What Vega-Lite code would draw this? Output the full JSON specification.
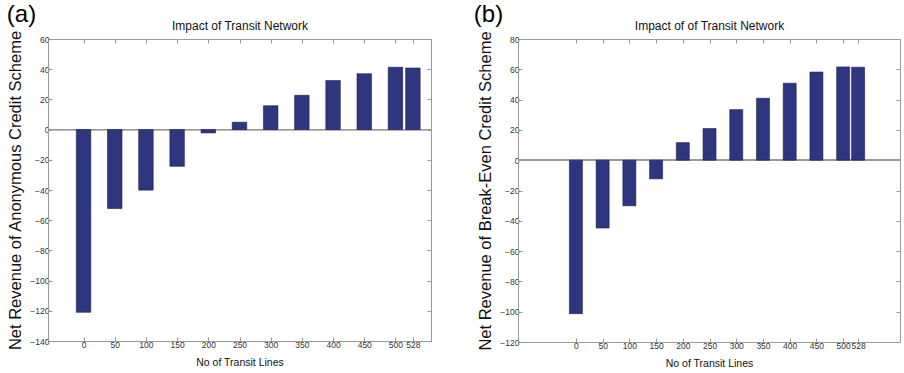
{
  "$schema": "https://vega.github.io/schema/vega-lite/v6.json",
  "background": "white",
  "padding": {"left": 6, "top": 2, "right": 0, "bottom": 0},
  "spacing": 41,
  "datasets": {
    "a": [
      {"lines": 0, "revenue": -121.0},
      {"lines": 50, "revenue": -52.3},
      {"lines": 100, "revenue": -40.1},
      {"lines": 150, "revenue": -24.3},
      {"lines": 200, "revenue": -2.2},
      {"lines": 250, "revenue": 4.9},
      {"lines": 300, "revenue": 15.8},
      {"lines": 350, "revenue": 22.7},
      {"lines": 400, "revenue": 32.5},
      {"lines": 450, "revenue": 37.0},
      {"lines": 500, "revenue": 41.3},
      {"lines": 528, "revenue": 40.8}
    ],
    "b": [
      {"lines": 0, "revenue": -101.3},
      {"lines": 50, "revenue": -44.8},
      {"lines": 100, "revenue": -30.1},
      {"lines": 150, "revenue": -12.3},
      {"lines": 200, "revenue": 11.6},
      {"lines": 250, "revenue": 20.9},
      {"lines": 300, "revenue": 33.4},
      {"lines": 350, "revenue": 40.9},
      {"lines": 400, "revenue": 50.8},
      {"lines": 450, "revenue": 58.2},
      {"lines": 500, "revenue": 61.6},
      {"lines": 528, "revenue": 61.4}
    ]
  },
  "hconcat": [
    {
      "width": 383,
      "height": 302,
      "title": {"text": "(a)", "anchor": "start", "frame": "bounds", "fontSize": 24, "fontWeight": "normal", "font": "Liberation Sans", "color": "black", "dy": 7, "dx": -1, "offset": 0},
      "data": {"name": "a"},
      "resolve": {"axis": {"x": "independent", "y": "independent"}},
      "layer": [
        {
          "mark": {"type": "rule", "color": "#9a9a9a", "strokeWidth": 1},
          "encoding": {"y": {"datum": 0, "type": "quantitative", "axis": null}}
        },
        {
          "mark": {"type": "bar", "width": 14.5, "fill": "#2e3680", "stroke": "#1c2050", "strokeWidth": 0.6},
          "encoding": {
            "x": {"field": "lines", "type": "quantitative", "scale": {"domain": [-49, 549], "nice": false, "zero": false},
                  "axis": {"orient": "bottom", "values": [0, 50, 100, 150, 200, 250, 300, 350, 400, 450, 500, 528], "title": "No of Transit Lines", "titleFontSize": 10.5, "titlePadding": 9}},
            "y": {"field": "revenue", "type": "quantitative", "scale": {"domain": [-140, 60], "nice": false},
                  "axis": {"orient": "left", "values": [-140, -120, -100, -80, -60, -40, -20, 0, 20, 40, 60], "title": "Net Revenue of Anonymous Credit Scheme", "titleFontSize": 16.5, "titlePadding": 6}}
          }
        },
        {
          "mark": {"type": "bar", "width": 14.5, "opacity": 0},
          "encoding": {
            "x": {"field": "lines", "type": "quantitative",
                  "axis": {"orient": "top", "values": [0, 50, 100, 150, 200, 250, 300, 350, 400, 450, 500, 528], "labels": false, "title": "Impact of Transit Network", "titleFontSize": 12, "titlePadding": 6}},
            "y": {"field": "revenue", "type": "quantitative",
                  "axis": {"orient": "right", "values": [-140, -120, -100, -80, -60, -40, -20, 0, 20, 40, 60], "labels": false, "title": null}}
          }
        }
      ]
    },
    {
      "width": 382,
      "height": 303,
      "title": {"text": "(b)", "anchor": "start", "frame": "bounds", "fontSize": 24, "fontWeight": "normal", "font": "Liberation Sans", "color": "black", "dy": 7, "dx": -4, "offset": 0},
      "data": {"name": "b"},
      "resolve": {"axis": {"x": "independent", "y": "independent"}},
      "layer": [
        {
          "mark": {"type": "rule", "color": "#9a9a9a", "strokeWidth": 1},
          "encoding": {"y": {"datum": 0, "type": "quantitative", "axis": null}}
        },
        {
          "mark": {"type": "bar", "width": 13, "fill": "#2e3680", "stroke": "#1c2050", "strokeWidth": 0.6},
          "encoding": {
            "x": {"field": "lines", "type": "quantitative", "scale": {"domain": [-99, 597], "nice": false, "zero": false},
                  "axis": {"orient": "bottom", "values": [0, 50, 100, 150, 200, 250, 300, 350, 400, 450, 500, 528], "title": "No of Transit Lines", "titleFontSize": 10.5, "titlePadding": 9}},
            "y": {"field": "revenue", "type": "quantitative", "scale": {"domain": [-120, 80], "nice": false},
                  "axis": {"orient": "left", "values": [-120, -100, -80, -60, -40, -20, 0, 20, 40, 60, 80], "title": "Net Revenue of Break-Even Credit Scheme", "titleFontSize": 16.5, "titlePadding": 6}}
          }
        },
        {
          "mark": {"type": "bar", "width": 13, "opacity": 0},
          "encoding": {
            "x": {"field": "lines", "type": "quantitative",
                  "axis": {"orient": "top", "values": [0, 50, 100, 150, 200, 250, 300, 350, 400, 450, 500, 528], "labels": false, "title": "Impact of of Transit Network", "titleFontSize": 12, "titlePadding": 6}},
            "y": {"field": "revenue", "type": "quantitative",
                  "axis": {"orient": "right", "values": [-120, -100, -80, -60, -40, -20, 0, 20, 40, 60, 80], "labels": false, "title": null}}
          }
        }
      ]
    }
  ],
  "config": {
    "font": "Liberation Sans",
    "view": {"stroke": "#9a9a9a", "strokeWidth": 1},
    "axis": {
      "grid": false,
      "domainColor": "#9a9a9a",
      "tickColor": "#9a9a9a",
      "tickSize": -4,
      "labelFont": "Liberation Sans",
      "labelFontSize": 8.5,
      "labelColor": "#333333",
      "labelPadding": 3,
      "labelOverlap": false,
      "labelFlush": false,
      "titleFont": "Liberation Sans",
      "titleFontWeight": "normal",
      "titleColor": "#111111"
    }
  }
}
